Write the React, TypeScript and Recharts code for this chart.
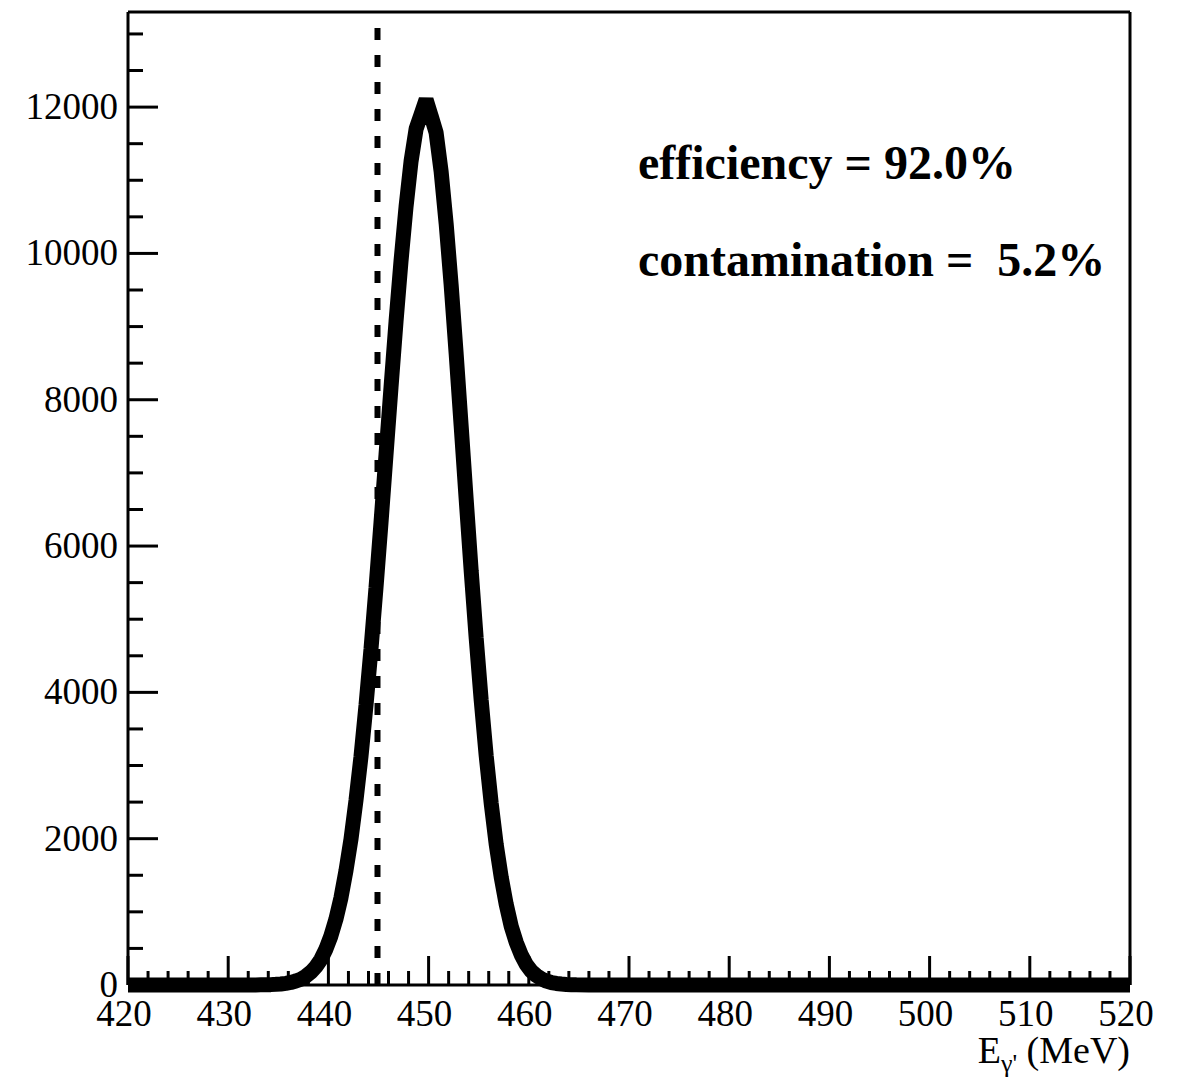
import React from 'react';
import { LineChart, Line, XAxis, YAxis, ReferenceLine } from 'recharts';

// photon energy (MeV), bin centres of the histogram
const energy = [
  420, 425, 430, 432.75, 433.25, 433.75, 434.25, 434.75, 435.25, 435.75, 436.25, 436.75,
  437.25, 437.75, 438.25, 438.75, 439.25, 439.75, 440.25, 440.75, 441.25, 441.75,
  442.25, 442.75, 443.25, 443.75, 444.25, 444.75, 445.25, 445.75, 446.25, 446.75,
  447.25, 447.75, 448.25, 448.75, 449.25, 449.75, 450.25, 450.75, 451.25, 451.75,
  452.25, 452.75, 453.25, 453.75, 454.25, 454.75, 455.25, 455.75, 456.25, 456.75,
  457.25, 457.75, 458.25, 458.75, 459.25, 459.75, 460.25, 460.75, 461.25, 461.75,
  462.25, 462.75, 463.25, 463.75, 464.25, 464.75, 466, 470, 480, 490, 500, 510, 520,
];

// entries per bin
const counts = [
  0, 0, 0, 1, 2, 3, 5, 9, 14, 23, 35, 54,
  80, 120, 175, 250, 350, 490, 670, 900, 1190, 1560,
  1990, 2520, 3120, 3820, 4590, 5430, 6320, 7250, 8170, 9070,
  9900, 10640, 11260, 11700, 11900, 12100, 11880, 11650, 11120, 10410,
  9570, 8630, 7640, 6640, 5660, 4740, 3890, 3130, 2480, 1920,
  1470, 1100, 800, 580, 410, 280, 190, 130, 85, 54,
  34, 21, 13, 8, 5, 3, 0, 0, 0, 0, 0, 0, 0,
];

const xTicks = [
  420, 422, 424, 426, 428, 430, 432, 434, 436, 438, 440, 442, 444, 446, 448, 450,
  452, 454, 456, 458, 460, 462, 464, 466, 468, 470, 472, 474, 476, 478, 480, 482,
  484, 486, 488, 490, 492, 494, 496, 498, 500, 502, 504, 506, 508, 510, 512, 514,
  516, 518, 520,
];
const yTicks = [
  0, 500, 1000, 1500, 2000, 2500, 3000, 3500, 4000, 4500, 5000, 5500, 6000, 6500,
  7000, 7500, 8000, 8500, 9000, 9500, 10000, 10500, 11000, 11500, 12000, 12500, 13000,
];

const cutEnergy = 444.9;
const efficiencyText = 'efficiency = 92.0%';
const contaminationText = 'contamination =  5.2%';

const W = 1181;
const H = 1077;
const PLOT_LEFT = 128;
const PLOT_BOTTOM = 985;
const FONT = '"Liberation Serif", "Times New Roman", serif';

const data = energy.map((e, i) => ({ e, n: counts[i] }));

function XTick(props: any) {
  const { x, payload } = props;
  const v = payload.value;
  const major = v % 10 === 0;
  return (
    <g>
      <line x1={x} x2={x} y1={PLOT_BOTTOM} y2={PLOT_BOTTOM - (major ? 29 : 14)} stroke="#000" strokeWidth={3} />
      {major && (
        <text x={x - 4} y={1026} textAnchor="middle" fontFamily={FONT} fontSize={37} fill="#000">
          {v}
        </text>
      )}
    </g>
  );
}

function YTick(props: any) {
  const { y, payload } = props;
  const v = payload.value;
  const major = v % 2000 === 0;
  return (
    <g>
      <line x1={PLOT_LEFT} x2={PLOT_LEFT + (major ? 30 : 15)} y1={y} y2={y} stroke="#000" strokeWidth={3} />
      {major && (
        <text x={118} y={y + 12} textAnchor="end" fontFamily={FONT} fontSize={37} fill="#000">
          {v}
        </text>
      )}
    </g>
  );
}

function AxisTitle() {
  return (
    <text x={1130} y={1063} textAnchor="end" fontFamily={FONT} fontSize={38} fill="#000">
      E
      <tspan dy={9} fontSize={26}>γ'</tspan>
      <tspan dy={-9}> (MeV)</tspan>
    </text>
  );
}

export default function App() {
  return (
    <div style={{ position: 'absolute', left: 0, top: 0, width: W, height: H, background: '#fff' }}>
      <LineChart width={W} height={H} data={data} margin={{ top: 11, right: 50, left: 127, bottom: 91 }}>
        <XAxis
          dataKey="e"
          type="number"
          domain={[420, 520]}
          ticks={xTicks}
          interval={0}
          height={1}
          tickLine={false}
          tick={(p: any) => <XTick {...p} />}
          axisLine={{ stroke: '#000', strokeWidth: 3 }}
          label={{ content: () => <AxisTitle /> }}
        />
        <XAxis
          xAxisId="top"
          orientation="top"
          type="number"
          domain={[420, 520]}
          height={1}
          tick={false}
          tickLine={false}
          axisLine={{ stroke: '#000', strokeWidth: 3 }}
        />
        <YAxis
          type="number"
          domain={[0, 13300]}
          ticks={yTicks}
          interval={0}
          width={1}
          tickLine={false}
          tick={(p: any) => <YTick {...p} />}
          axisLine={{ stroke: '#000', strokeWidth: 3 }}
        />
        <YAxis
          yAxisId="right"
          orientation="right"
          type="number"
          domain={[0, 13300]}
          width={1}
          tick={false}
          tickLine={false}
          axisLine={{ stroke: '#000', strokeWidth: 3 }}
        />
        <ReferenceLine x={cutEnergy} stroke="#000" strokeWidth={6} strokeDasharray="12 15" />
        <Line
          type="linear"
          dataKey="n"
          stroke="#000"
          strokeWidth={15}
          strokeLinejoin="bevel"
          dot={false}
          isAnimationActive={false}
        />
      </LineChart>
      <svg width={W} height={H} style={{ position: 'absolute', left: 0, top: 0, pointerEvents: 'none' }}>
        <text x={638} y={179} fontFamily={FONT} fontWeight="bold" fontSize={48} fill="#000" style={{ whiteSpace: 'pre' }}>
          {efficiencyText}
        </text>
        <text x={638} y={276} fontFamily={FONT} fontWeight="bold" fontSize={48} fill="#000" style={{ whiteSpace: 'pre' }}>
          {contaminationText}
        </text>
      </svg>
    </div>
  );
}
